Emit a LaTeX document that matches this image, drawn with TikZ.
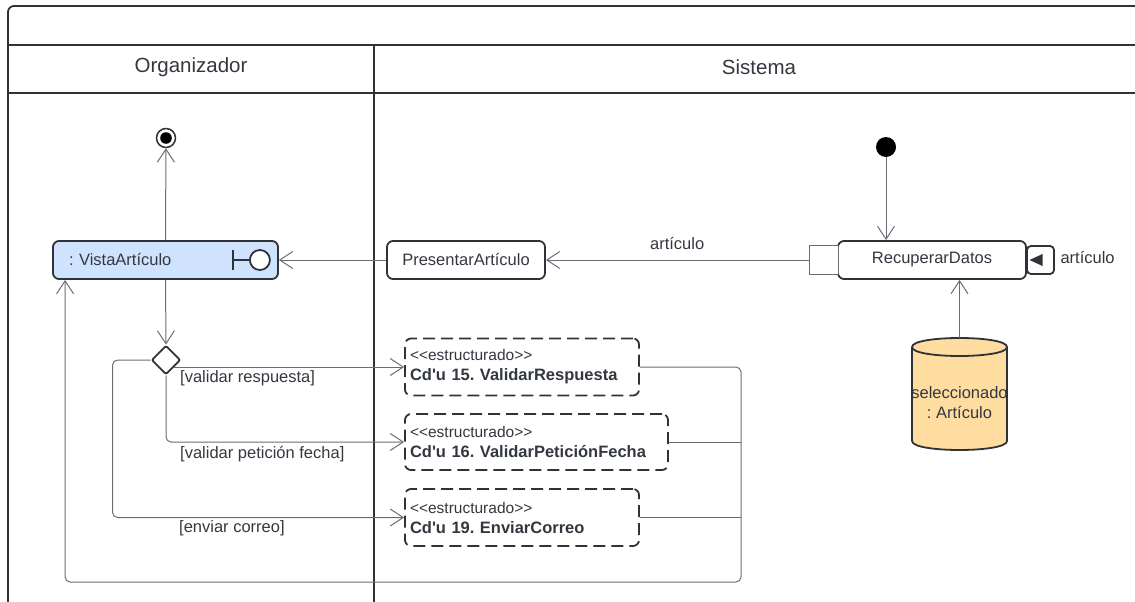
\documentclass[tikz,border=0pt]{standalone}
\usepackage{fontspec}
\setmainfont{Liberation Sans}[Ligatures=TeXOff]
\usetikzlibrary{arrows.meta,shapes.geometric,calc}
\definecolor{ink}{RGB}{51,56,64}
\definecolor{framec}{RGB}{47,51,56}
\definecolor{wirec}{RGB}{105,109,115}
\definecolor{blueFill}{RGB}{207,227,255}
\definecolor{dbFill}{RGB}{255,221,160}
\frenchspacing
\begin{document}
\begin{tikzpicture}[x=1pt,y=-1pt,
  every node/.style={font=\fontsize{16.5}{20}\selectfont, text=ink},
  lane/.style={draw=framec, line width=1.6pt},
  action/.style={draw=framec, line width=1.8pt, rounded corners=6pt, minimum height=38pt, inner sep=0pt, fill=white},
  sub/.style={action, dashed, dash pattern=on 12pt off 6pt, minimum height=57pt, align=left, inner xsep=5pt},
  wire/.style={draw=wirec, line width=1pt, rounded corners=5pt},
  arr/.style={-{Straight Barb[length=13pt,width=17pt,line width=1pt]}},
  guard/.style={anchor=west, inner sep=0pt},
  lanetitle/.style={font=\fontsize{20.5}{24}\selectfont}
]
\useasboundingbox (0,0) rectangle (1135,602);

% swimlane frame
\draw[lane, line width=1.8pt, rounded corners=6pt] (8,602) -- (8,6) -- (1135,6);
\draw[lane] (8,45) -- (1135,45);
\draw[lane] (8,93) -- (1135,93);
\draw[lane, line width=1.8pt] (374,45) -- (374,602);
\node[lanetitle] (ltA) at (191,67) {Organizador};
\node[lanetitle] (ltB) at (759,67) {Sistema};

% nodes
\node[draw=framec, line width=1.5pt, circle, minimum size=19pt, inner sep=0pt, fill=white] (fin) at (166,138) {};
\fill[black] (fin.center) circle (5.8pt);

\node[action, fill=blueFill, minimum width=225pt, text width=193pt, inner xsep=16pt, align=left] (v) at (165.5,260) {: VistaArtículo};
\draw[framec, line width=1.8pt] ($(v.east)+(-46,-10)$) -- ($(v.east)+(-46,10)$);
\draw[framec, line width=1.8pt] ($(v.east)+(-46,0)$) -- ($(v.east)+(-29,0)$);
\draw[framec, line width=1.8pt, fill=white] ($(v.east)+(-19,0)$) circle (10pt);

\node[action, minimum width=158pt] (pa) at (466,260) {PresentarArtículo};
\node[action, minimum width=188pt] (rd) at (932,260) {RecuperarDatos};
\node[draw=wirec, line width=1pt, minimum width=29pt, minimum height=29pt, inner sep=0pt, fill=white] (pin) at (823.5,260) {};
\node[draw=framec, line width=1.8pt, rounded corners=4pt, minimum width=27pt, minimum height=28pt, inner sep=0pt] (op) at (1040.5,260) {};
\fill[framec] ($(op.center)+(-11,0)$) -- ($(op.center)+(2,-6)$) -- ($(op.center)+(2,6)$) -- cycle;
\node[anchor=west] (opl) at (1057,258) {artículo};

\node[circle, fill=black, minimum size=20pt, inner sep=0pt] (init) at (886,147) {};

% data store (cylinder)
\node[minimum width=95pt, minimum height=112pt, inner sep=0pt] (db) at (959.5,394) {};
\filldraw[fill=dbFill, draw=framec, line width=1.8pt]
  (912,347) -- (912,441) .. controls (912,453) and (1007,453) .. (1007,441)
  -- (1007,347) .. controls (1007,335) and (912,335) .. (912,347) -- cycle;
\draw[framec, line width=1.8pt] (912,347) .. controls (912,359) and (1007,359) .. (1007,347);
\node[align=center, inner sep=0pt] (dbt) at (959.5,403) {seleccionado\\: Artículo};

\node[diamond, draw=framec, line width=1.8pt, minimum width=29pt, minimum height=29pt, inner sep=0pt, fill=white, rounded corners=2pt] (d) at (166,360) {};

\node[sub, minimum width=234pt, text width=224pt] (b1) at (522,367) {{\fontsize{15.5}{20}\selectfont <<estructurado>>}\\\textbf{Cd'u 15. ValidarRespuesta}};
\node[sub, minimum width=263pt, text width=253pt, minimum height=56pt] (b2) at (536.5,442) {{\fontsize{15.5}{20}\selectfont <<estructurado>>}\\\textbf{Cd'u 16. ValidarPeticiónFecha}};
\node[sub, minimum width=234pt, text width=224pt] (b3) at (522,517.5) {{\fontsize{15.5}{20}\selectfont <<estructurado>>}\\\textbf{Cd'u 19. EnviarCorreo}};

% connectors
\draw[wire, arr] (v.north) -- (fin);
\draw[wire, arr] (pa.west) -- (v.east);
\draw[wire, arr] (pin.west) -- node[above=10pt, inner sep=0pt] (al) {artículo} (pa.east);
\draw[wire, arr] (init) -- (init |- rd.north);
\draw[wire, arr] (db.north) -- (db.north |- rd.south);
\draw[wire, arr] (v.south) -- (d.north);
\draw[wire, arr] (d.south east |- b1.west) -- (b1.west);
\draw[wire, arr] (d.south) |- (b2.west);
\draw[wire, arr] (d.west) -- ++(-38,0) |- (b3.west);
\coordinate (m) at (741,582);
\draw[wire, arr] (b1.east) -| (m) -| ($(v.south west)+(13,0)$);
\draw[wire] (b2.east) -- (b2.east -| m);
\draw[wire] (b3.east) -- (b3.east -| m);

% guards
\node[guard] (g1) at (180,378) {[validar respuesta]};
\node[guard] (g2) at (180,454) {[validar petición fecha]};
\node[guard] (g3) at (179,528) {[enviar correo]};
\end{tikzpicture}
\end{document}
